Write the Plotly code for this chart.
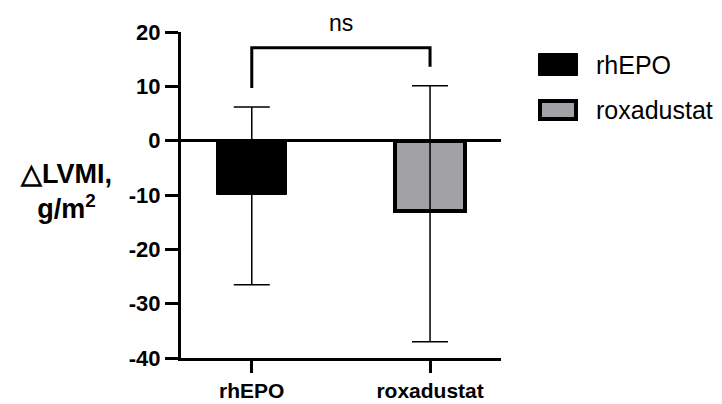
import plotly.graph_objects as go

# ---- data ----
categories = ["rhEPO", "roxadustat"]
means = [-10.0, -12.9]
err_plus = [16.2, 23.0]
err_minus = [16.5, 24.1]
fill_colors = ["#000000", "#a1a1a6"]
line_widths = [1, 4]
y_ticks = [20, 10, 0, -10, -20, -30, -40]
sig_label = "ns"
y_title_lines = ["△LVMI,", "g/m<sup>2</sup>"]

W, H = 722, 404
L, R, T, B = 181, 221, 32, 46
PW, PH = W - L - R, H - T - B

def px(xp):
    return (xp - L) / PW

def py(yp):
    return (H - B - yp) / PH

FONT = "Liberation Sans, Arial, sans-serif"

fig = go.Figure()
for i, c in enumerate(categories):
    fig.add_trace(go.Bar(
        x=[c], y=[means[i]], width=0.39,
        marker=dict(color=fill_colors[i], line=dict(color="black", width=line_widths[i])),
        error_y=dict(type="data", symmetric=False, array=[err_plus[i]],
                     arrayminus=[err_minus[i]], color="black", thickness=1.5, width=18),
        showlegend=False, name=c,
    ))

# significance bracket (derived from error bar tops)
gap = 3.5
top = max(m + e for m, e in zip(means, err_plus)) + 7.0
left_bottom = means[0] + err_plus[0] + gap
right_bottom = means[1] + err_plus[1] + gap
fig.add_shape(type="path",
              path=f"M 0 {left_bottom} L 0 {top} L 1 {top} L 1 {right_bottom}",
              xref="x", yref="y", line=dict(color="black", width=3))
fig.add_annotation(x=0.5, xref="x", y=py(23), yref="paper", text=sig_label,
                   showarrow=False, font=dict(size=23, color="black", family=FONT),
                   xanchor="center", yanchor="middle")

# y title
fig.add_annotation(x=px(66), y=py(191), xref="paper", yref="paper",
                   text="<br>".join(f"<b>{t}</b>" for t in y_title_lines),
                   showarrow=False, align="center",
                   font=dict(size=27, color="black", family=FONT),
                   xanchor="center", yanchor="middle")

# custom legend
legend_rows = [(53, 76), (99, 121)]
for i, c in enumerate(categories):
    y0, y1 = legend_rows[i]
    lw = line_widths[i]
    fig.add_shape(type="rect", xref="paper", yref="paper",
                  x0=px(538 + lw / 2), x1=px(578 - lw / 2),
                  y0=py(y1 - lw / 2), y1=py(y0 + lw / 2),
                  fillcolor=fill_colors[i], line=dict(color="black", width=lw))
    fig.add_annotation(x=px(594), y=py((y0 + y1) / 2), xref="paper", yref="paper",
                       text=c, showarrow=False, xanchor="left", yanchor="middle",
                       font=dict(size=25, color="black", family=FONT))

fig.update_layout(
    width=W, height=H,
    margin=dict(l=L, r=R, t=T, b=B, pad=0),
    plot_bgcolor="white", paper_bgcolor="white",
    font=dict(family=FONT, color="black"),
    bargap=0,
)
fig.update_xaxes(
    type="category", range=[-0.397, 1.398], automargin=False,
    showline=True, linecolor="black", linewidth=3,
    ticks="outside", ticklen=12, tickwidth=3, tickcolor="black",
    tickfont=dict(size=21, family=FONT, weight="bold"),
    showgrid=False, zeroline=False,
)
fig.update_yaxes(
    range=[-40, 20], tickvals=y_ticks, ticktext=[str(v) for v in y_ticks],
    automargin=False,
    showline=True, linecolor="black", linewidth=3,
    ticks="outside", ticklen=13, tickwidth=3, tickcolor="black",
    tickfont=dict(size=22, family=FONT, weight="bold"),
    showgrid=False, zeroline=True, zerolinecolor="black", zerolinewidth=3,
)

fig.write_html("out.html")
